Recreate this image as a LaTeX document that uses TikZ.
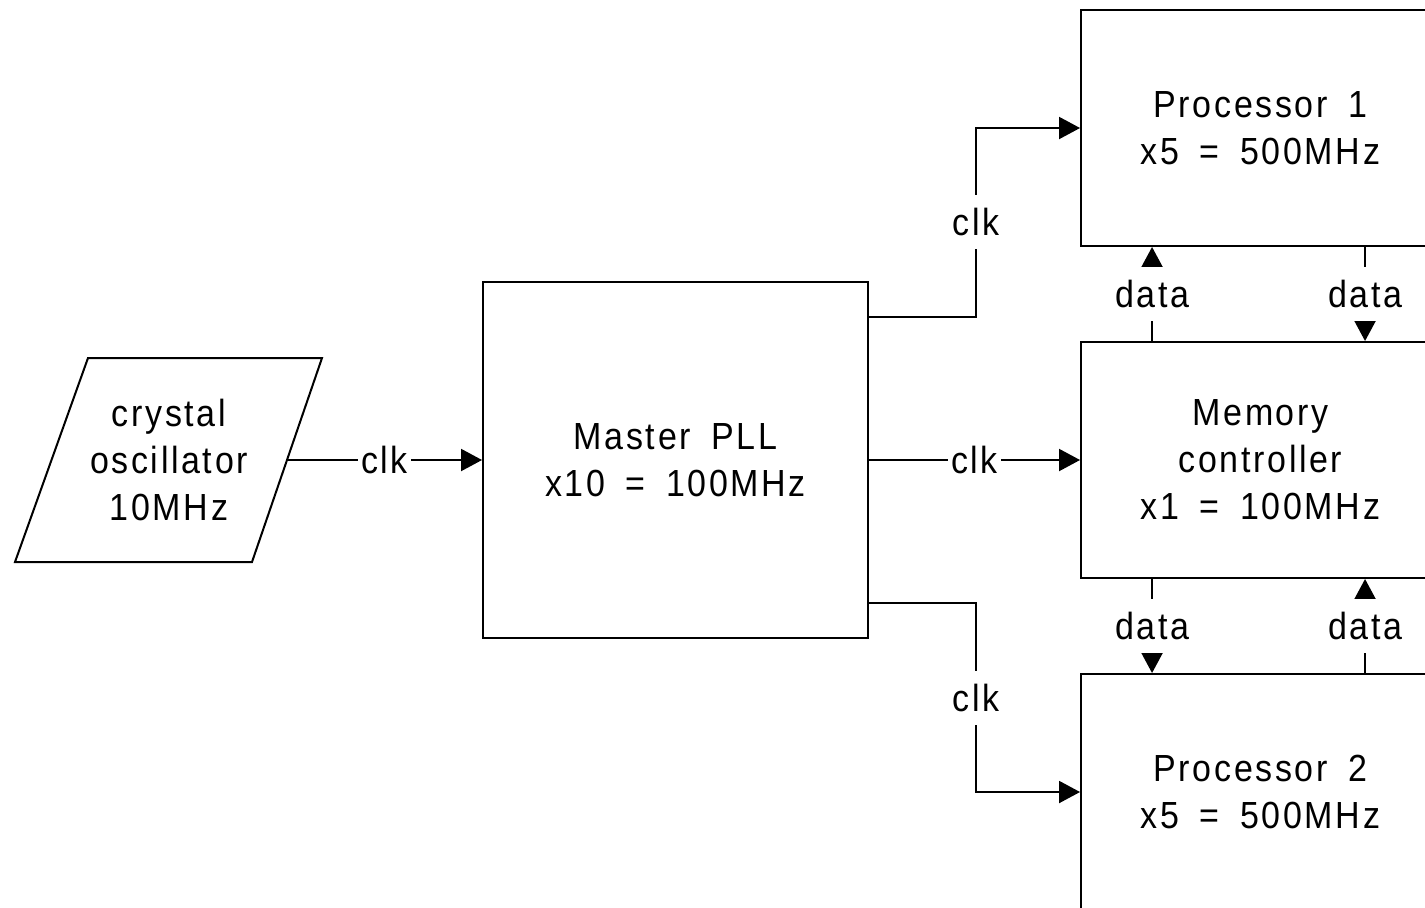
\documentclass[tikz,border=0pt]{standalone}
\usepackage{fontspec}
\setmainfont{Liberation Sans}[LetterSpace=7,FakeStretch=0.9,WordSpace=1.7]
\usetikzlibrary{arrows.meta,calc}
\begin{document}
\begin{tikzpicture}[x=0.02cm,y=-0.02cm,
  line width=0.04cm,
  every node/.style={font=\fontsize{21.5}{26.8}\selectfont},
  block/.style={draw,rectangle,inner sep=0pt,align=center},
  procbox/.style={block,minimum width=7.18cm,minimum height=4.72cm},
  lbl/.style={fill=white,inner xsep=1.5pt,inner ysep=0.27cm,text height=0.54cm,text depth=0pt},
  arr/.style={-{Triangle[length=0.42cm,width=0.44cm]}}]
  \useasboundingbox (0,0) rectangle (1425,907);
  \clip (0,0) rectangle (1425,907);

  % clock source: a slanted input box
  \coordinate (oscTL) at (88,358);
  \coordinate (oscTR) at (322,358);
  \coordinate (oscBR) at (252,562);
  \coordinate (oscBL) at (15,562);
  \draw (oscTL) -- (oscTR) -- (oscBR) -- (oscBL) -- cycle;
  \coordinate (oscout) at ($(oscTR)!0.5!(oscBR)$);
  \node[align=center,inner sep=0pt] (osc) at (169,460) {crystal\\oscillator\\10MHz};

  % master PLL
  \node[block,minimum width=7.7cm,minimum height=7.12cm] (pll) at (675.5,460)
        {Master PLL\\x10 = 100MHz};

  % clocked blocks on the right
  \node[procbox] (p1)  at (1260.5,128) {Processor 1\\x5 = 500MHz};
  \node[procbox] (mem) at (1260.5,460) {Memory\\controller\\x1 = 100MHz};
  \node[procbox] (p2)  at (1260.5,792) {Processor 2\\x5 = 500MHz};

  % clock distribution
  \draw[arr] (oscout) -- node[lbl]{clk} (oscout -| pll.west);
  \draw[arr] ($(pll.north east)!0.1!(pll.south east)$) -- ++(107,0)
        |- node[lbl,pos=0.25]{clk} (p1.west);
  \draw[arr] (pll.east) -- node[lbl]{clk} (mem.west);
  \draw[arr] ($(pll.north east)!0.9!(pll.south east)$) -- ++(107,0)
        |- node[lbl,pos=0.25]{clk} (p2.west);

  % data paths
  \draw[arr] ($(mem.north west)+(72,0)$) -- node[lbl]{data} ($(p1.south west)+(72,0)$);
  \draw[arr] ($(p1.south west)+(285,0)$) -- node[lbl]{data} ($(mem.north west)+(285,0)$);
  \draw[arr] ($(mem.south west)+(72,0)$) -- node[lbl]{data} ($(p2.north west)+(72,0)$);
  \draw[arr] ($(p2.north west)+(285,0)$) -- node[lbl]{data} ($(mem.south west)+(285,0)$);
\end{tikzpicture}
\end{document}
